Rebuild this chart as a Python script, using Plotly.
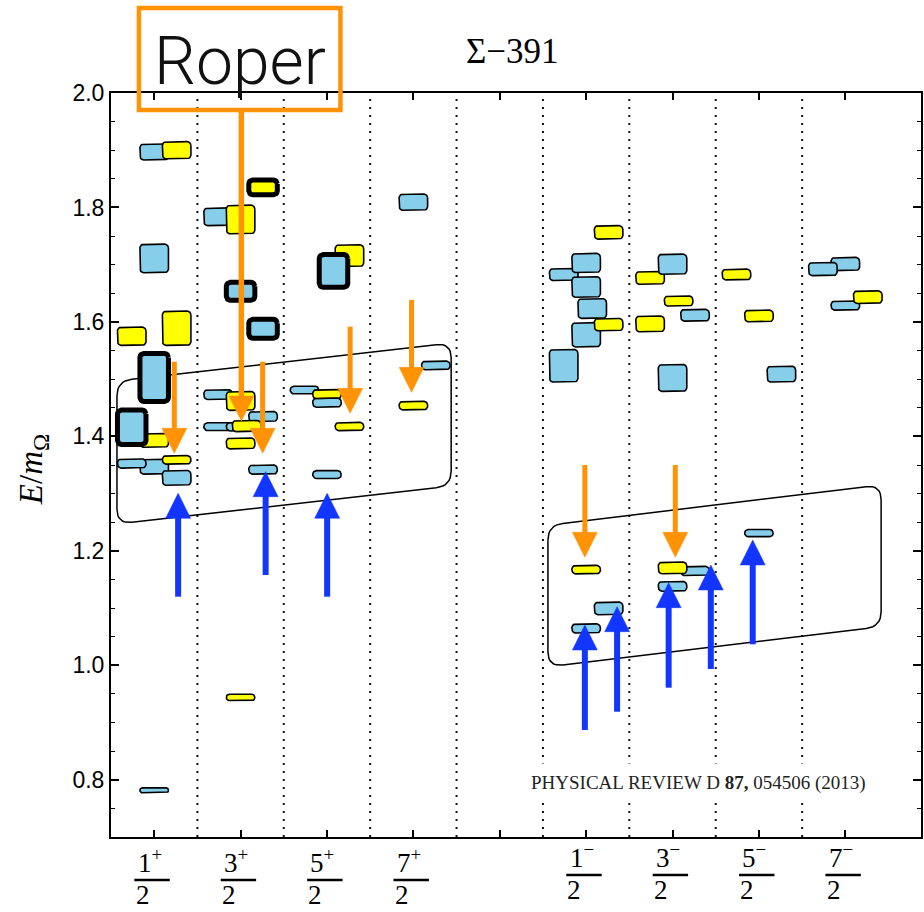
import math
import plotly.graph_objects as go

# ---------------- data ----------------
column_numerators = ["1", "3", "5", "7", None, "1", "3", "5", "7"]
column_parity = ["+", "+", "+", "+", None, "\u2212", "\u2212", "\u2212", "\u2212"]
column_index = list(range(9))

# energy levels (draw order); slot = horizontal sub-position inside a J^P column
box_column = [0, 0, 0, 0, 0, 0, 0, 0, 0, 0, 0, 0, 0,
              1, 1, 1, 1, 1, 1, 1, 1, 1, 1, 1, 1, 1, 1,
              2, 2, 2, 2, 2, 2, 2,
              3, 3, 3,
              5, 5, 5, 5, 5, 5, 5, 5, 5, 5, 5,
              6, 6, 6, 6, 6, 6, 6, 6, 6,
              7, 7, 7, 7,
              8, 8, 8, 8]
box_slot = [0, 1, 0, -1, 1, 0, 0, -1, 0, 1, -1, 1, 0,
            -1, 0, 1, 0, 1, -1, 0, 1, -1, 0, 0.27, 0, 1, 0,
            1, 0.29, -1, 0, 0, 1, 0,
            0, 1, 0,
            1, -1, 0, 0, 0.27, 0, 1, -1, 0, 1, 0,
            -1, 0, 0.27, 1, -1, 0, 1, 0, 0,
            -1, 0, 1, 0,
            0, -1, 0, 1]
box_energy = [1.897, 1.900, 1.711, 1.575, 1.589, 1.393, 1.503, 1.416, 1.347, 1.359, 1.3526, 1.3275, 0.7816,
              1.7837, 1.779, 1.835, 1.6535, 1.588, 1.473, 1.462, 1.4347, 1.417, 1.417, 1.418, 1.3877, 1.342, 0.9439,
              1.7158, 1.689, 1.481, 1.4737, 1.459, 1.4172, 1.3333,
              1.8093, 1.524, 1.4538,
              1.7565, 1.6828, 1.703, 1.661, 1.6234, 1.5775, 1.5953, 1.5234, 1.1672, 1.0994, 1.0644,
              1.6769, 1.7009, 1.6365, 1.6117, 1.5965, 1.5021, 1.1649, 1.1702, 1.138,
              1.6828, 1.6105, 1.5088, 1.231,
              1.7012, 1.6924, 1.6286, 1.6433]
box_error = [0.014, 0.015, 0.025, 0.016, 0.030, 0.012, 0.042, 0.030, 0.013, 0.0075, 0.008, 0.013, 0.0042,
             0.0155, 0.025, 0.013, 0.0157, 0.0166, 0.0085, 0.0165, 0.0088, 0.0068, 0.0075, 0.0097, 0.0095, 0.008, 0.0055,
             0.019, 0.0286, 0.0065, 0.008, 0.008, 0.0072, 0.0068,
             0.0142, 0.0075, 0.0075,
             0.0118, 0.0105, 0.0167, 0.018, 0.0172, 0.0212, 0.0108, 0.0285, 0.0075, 0.011, 0.008,
             0.0112, 0.0176, 0.0088, 0.0103, 0.0138, 0.0235, 0.008, 0.0102, 0.0085,
             0.0094, 0.0102, 0.0138, 0.0062,
             0.0115, 0.0115, 0.008, 0.011]
box_flavour = ["b", "y", "b", "y", "y", "y", "b", "b", "b", "y", "b", "b", "b",
               "b", "y", "y", "b", "b", "b", "y", "b", "b", "b", "y", "y", "b", "y",
               "y", "b", "b", "y", "b", "y", "b",
               "b", "b", "y",
               "y", "b", "b", "b", "b", "b", "y", "b", "y", "b", "b",
               "y", "b", "y", "b", "y", "b", "b", "y", "b",
               "y", "y", "b", "b",
               "b", "b", "b", "y"]
box_roper = [False, False, False, False, False, False, True, True, False, False, False, False, False,
             False, False, True, True, True, False, False, False, False, False, False, False, False, False,
             False, True, False, False, False, False, False,
             False, False, False,
             False, False, False, False, False, False, False, False, False, False, False,
             False, False, False, False, False, False, False, False, False,
             False, False, False, False,
             False, False, False, False]

# annotation arrows (column position, start energy, end energy)
orange_arrow_col = [0.233, 1.255, 2.268, 2.979, 4.985, 6.032]
orange_arrow_from = [1.5305, 1.5305, 1.5917, 1.6383, 1.35, 1.35]
orange_arrow_to = [1.3705, 1.3705, 1.4403, 1.477, 1.1887, 1.1887]
roper_arrow_col = 1.009
roper_arrow_from = 1.968
roper_arrow_to = 1.4269
blue_arrow_col = [0.277, 1.29, 2.002, 4.985, 5.358, 5.955, 6.443, 6.928]
blue_arrow_from = [1.1199, 1.1578, 1.1199, 0.887, 0.9189, 0.9609, 0.9936, 1.0367]
blue_arrow_to = [1.3006, 1.3383, 1.3006, 1.0704, 1.1024, 1.1444, 1.1753, 1.219]

# grouping outlines (corner points: column, energy)
group_plus = [(-0.431, 1.4968), (3.4376, 1.5632), (3.4376, 1.3133), (-0.431, 1.2469)]
group_minus = [(4.5577, 1.2448), (8.4145, 1.3152), (8.4145, 1.0675), (4.5577, 0.9974)]

# ---------------- layout constants ----------------
W, H = 924, 912
ML, MR, MT, MB = 111, 1, 93, 75
XR = [-0.5, 8.876]
YR = [0.7, 2.0]
PW, PH = W - ML - MR, H - MT - MB
PXX = PW / (XR[1] - XR[0])
PXY = PH / (YR[1] - YR[0])

SLOT = 0.26
BOXW = 0.165
BLUE = "#87CEEB"
YELLOW = "#FFFF00"
ORANGE = "#FF9305"
ARROWBLUE = "#1236FF"


def rounded_rect(xc, yc, hw, hh, rpx=4.0, n=6):
    hh_px = hh * PXY
    hw_px = hw * PXX
    r = min(rpx, hh_px * 0.95, hw_px * 0.95)
    rx, ry = r / PXX, r / PXY
    corners = [(xc + hw - rx, yc + hh - ry, 0), (xc - hw + rx, yc + hh - ry, 90),
               (xc - hw + rx, yc - hh + ry, 180), (xc + hw - rx, yc - hh + ry, 270)]
    xs, ys = [], []
    for cx, cy, a0 in corners:
        for i in range(n + 1):
            a = math.radians(a0 + 90 * i / n)
            xs.append(cx + rx * math.cos(a))
            ys.append(cy + ry * math.sin(a))
    xs.append(xs[0]); ys.append(ys[0])
    return xs, ys


def rounded_poly(pts, rpx=15.0, n=8):
    P = [((x - XR[0]) * PXX, (y - YR[0]) * PXY) for x, y in pts]
    out = []
    m = len(P)
    for i in range(m):
        p0, p1, p2 = P[i - 1], P[i], P[(i + 1) % m]
        v1 = (p0[0] - p1[0], p0[1] - p1[1]); l1 = math.hypot(*v1)
        v2 = (p2[0] - p1[0], p2[1] - p1[1]); l2 = math.hypot(*v2)
        a = (p1[0] + v1[0] / l1 * rpx, p1[1] + v1[1] / l1 * rpx)
        b = (p1[0] + v2[0] / l2 * rpx, p1[1] + v2[1] / l2 * rpx)
        for k in range(n + 1):
            t = k / n
            x = (1 - t) ** 2 * a[0] + 2 * (1 - t) * t * p1[0] + t ** 2 * b[0]
            y = (1 - t) ** 2 * a[1] + 2 * (1 - t) * t * p1[1] + t ** 2 * b[1]
            out.append((x, y))
    out.append(out[0])
    xs = [XR[0] + x / PXX for x, _ in out]
    ys = [YR[0] + y / PXY for _, y in out]
    return xs, ys


fig = go.Figure()

for poly in (group_plus, group_minus):
    xs, ys = rounded_poly(poly)
    fig.add_trace(go.Scatter(x=xs, y=ys, mode="lines", line=dict(color="black", width=1.5),
                             hoverinfo="skip", showlegend=False))

for c, s, e, err, fl, rp in zip(box_column, box_slot, box_energy, box_error, box_flavour, box_roper):
    xs, ys = rounded_rect(c + s * SLOT, e, BOXW, err)
    fig.add_trace(go.Scatter(
        x=xs, y=ys, mode="lines", fill="toself",
        fillcolor=BLUE if fl == "b" else YELLOW,
        line=dict(color="black", width=5 if rp else 1.6),
        hoverinfo="skip", showlegend=False))

shapes = []
for i in range(8):
    shapes.append(dict(type="line", xref="x", yref="y", x0=i + 0.5, x1=i + 0.5, y0=YR[0], y1=YR[1],
                       line=dict(color="#111111", width=2, dash="2px,6px"), layer="below"))

HEADL = 25.0 / PXY
HEADW = 12.5 / PXX


def arrow(col, y0, y1, color, width):
    d = 1 if y1 > y0 else -1
    base = y1 - d * HEADL
    shapes.append(dict(type="line", xref="x", yref="y", x0=col, x1=col, y0=y0, y1=base + d * 0.002,
                       line=dict(color=color, width=width), layer="above"))
    shapes.append(dict(type="path", xref="x", yref="y",
                       path=f"M{col - HEADW},{base} L{col + HEADW},{base} L{col},{y1} Z",
                       fillcolor=color, line=dict(color=color, width=0.5), layer="above"))


for c, a, b in zip(orange_arrow_col, orange_arrow_from, orange_arrow_to):
    arrow(c, a, b, ORANGE, 5)
arrow(roper_arrow_col, roper_arrow_from, roper_arrow_to, ORANGE, 5.5)
for c, a, b in zip(blue_arrow_col, blue_arrow_from, blue_arrow_to):
    arrow(c, a, b, ARROWBLUE, 6)


def px_to_paper_x(px):
    return (px - ML) / PW


def px_to_paper_y(py):
    return (H - MB - py) / PH


shapes.append(dict(type="rect", xref="paper", yref="paper",
                   x0=px_to_paper_x(139), x1=px_to_paper_x(341),
                   y0=px_to_paper_y(110), y1=px_to_paper_y(8),
                   line=dict(color=ORANGE, width=4.5), fillcolor="rgba(0,0,0,0)", layer="above"))

annotations = []
annotations.append(dict(text="Roper", xref="paper", yref="paper", x=px_to_paper_x(240), y=px_to_paper_y(61),
                        xanchor="center", yanchor="middle", showarrow=False,
                        font=dict(family="Roboto", size=66, color="#111111", weight=300)))
annotations.append(dict(text="\u03a3\u2212391", xref="paper", yref="paper", x=px_to_paper_x(513),
                        y=px_to_paper_y(52), xanchor="center", yanchor="middle", showarrow=False,
                        font=dict(family="Liberation Serif", size=35, color="black")))
annotations.append(dict(text="<i>E</i>/<i>m</i><sub>\u03a9</sub>", xref="paper", yref="paper",
                        x=px_to_paper_x(33), y=px_to_paper_y(470), textangle=-90,
                        xanchor="center", yanchor="middle", showarrow=False,
                        font=dict(family="Liberation Serif", size=33, color="black")))
annotations.append(dict(text="PHYSICAL REVIEW D <b>87,</b> 054506 (2013)", xref="paper", yref="paper",
                        x=px_to_paper_x(700), y=px_to_paper_y(783), xanchor="center", yanchor="middle",
                        showarrow=False, bgcolor="white", borderpad=8,
                        font=dict(family="Liberation Serif", size=19, color="#222222")))

for i, num, sg in zip(column_index, column_numerators, column_parity):
    if num is None:
        continue
    if sg == "+":
        yn, yb, yd = 861, 880, 895
    else:
        yn, yb, yd = 856, 875, 890
    annotations.append(dict(text=f"{num}<sup>{sg}</sup>", xref="x", yref="paper", x=i - 0.215,
                            y=px_to_paper_y(yn), xanchor="left", yanchor="middle", showarrow=False,
                            font=dict(family="Liberation Serif", size=27, color="black")))
    annotations.append(dict(text="2", xref="x", yref="paper", x=i - 0.135,
                            y=px_to_paper_y(yd), xanchor="center", yanchor="middle", showarrow=False,
                            font=dict(family="Liberation Serif", size=27, color="black")))
    shapes.append(dict(type="line", xref="x", yref="paper", x0=i - 0.23, x1=i + 0.18,
                       y0=px_to_paper_y(yb), y1=px_to_paper_y(yb), line=dict(color="black", width=2.5)))

fig.update_layout(
    width=W, height=H, autosize=False,
    margin=dict(l=ML, r=MR, t=MT, b=MB),
    paper_bgcolor="white", plot_bgcolor="white",
    shapes=shapes, annotations=annotations, showlegend=False,
    xaxis=dict(range=XR, tickvals=column_index, showticklabels=False, ticks="inside", ticklen=7,
               tickwidth=1.5, tickcolor="black", showline=True, linecolor="black", linewidth=2,
               mirror="allticks", showgrid=False, zeroline=False),
    yaxis=dict(range=YR, tick0=0, dtick=0.2, tickformat=".1f", ticks="inside", ticklen=8,
               tickwidth=1.5, tickcolor="black", showline=True, linecolor="black", linewidth=2,
               mirror="allticks", showgrid=False, zeroline=False,
               tickfont=dict(family="Liberation Sans", size=23, color="black"),
               minor=dict(dtick=0.05, ticks="inside", ticklen=4, tickwidth=1, tickcolor="black",
                          showgrid=False)),
)

fig.write_html("out.html")
